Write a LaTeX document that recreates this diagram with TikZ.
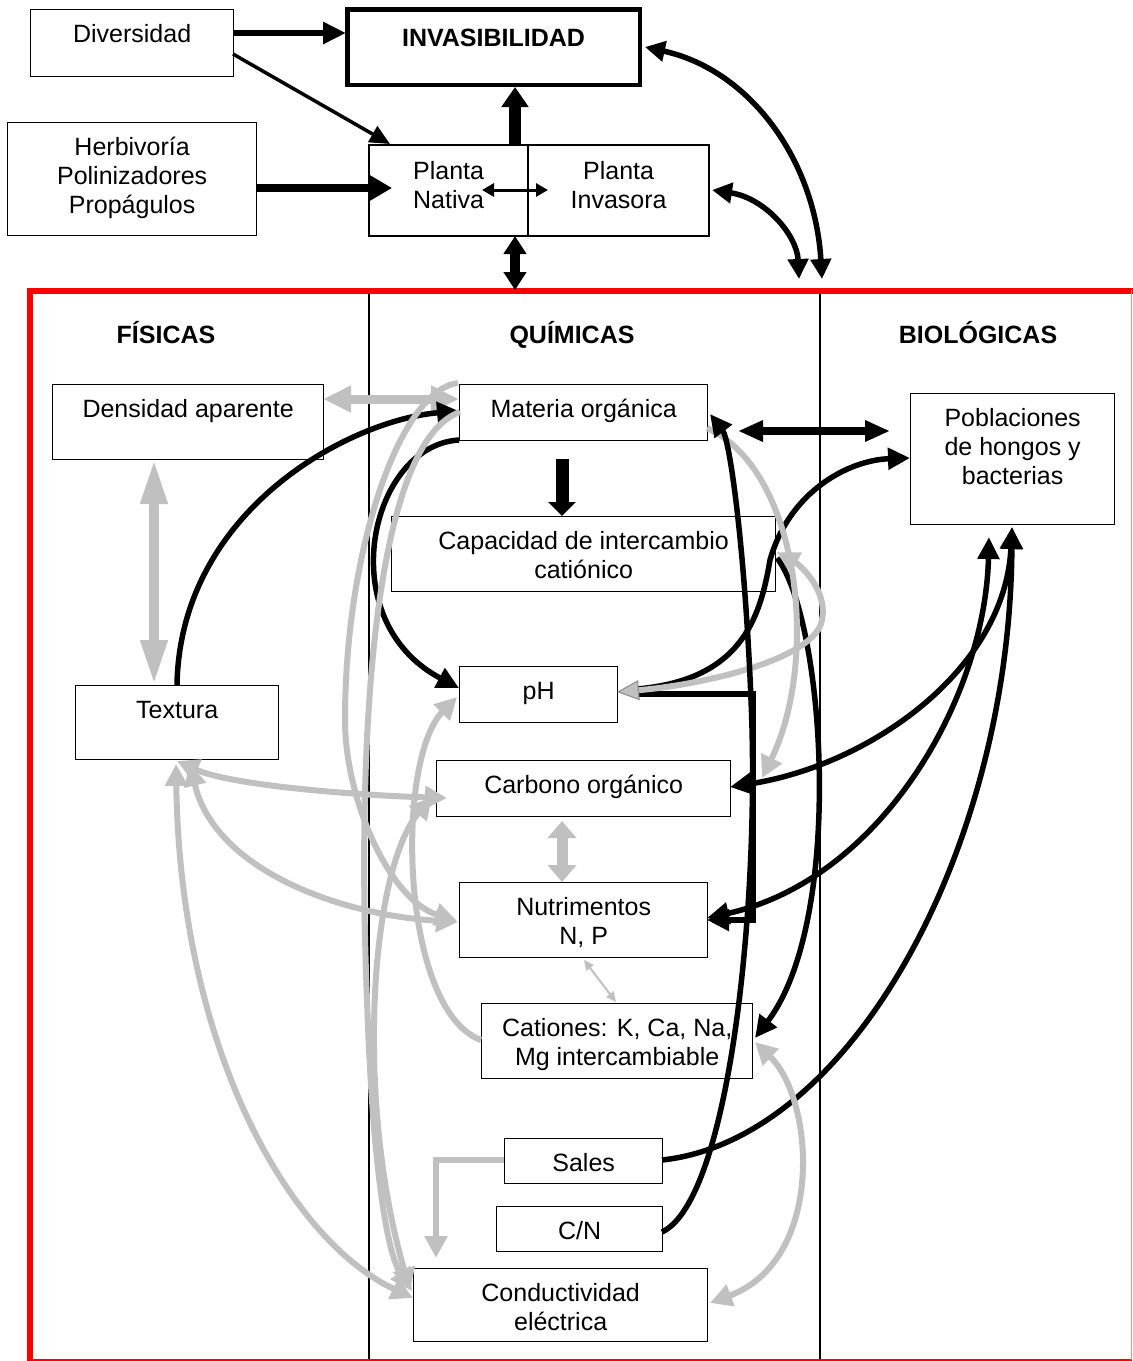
\documentclass[tikz,border=0pt]{standalone}
\usepackage{fontspec}
\setmainfont{Liberation Sans}
\usetikzlibrary{arrows.meta,calc}
\definecolor{lg}{RGB}{192,192,192}
\definecolor{fr}{RGB}{255,0,0}
\newcommand\mkbox[7][]{\node[bx,#1,minimum width=#5pt,minimum height=#6pt,label={[lbl]north:{\strut #7}}] (#2) at (#3,#4) {};}
\newcommand\mkboxb[7][]{\node[bx,#1,minimum width=#5pt,minimum height=#6pt,label={[lbl,yshift=-2pt]north:{\strut #7}}] (#2) at (#3,#4) {};}
\tikzset{
 bx/.style={draw, line width=1.3pt, fill=white, inner sep=0pt, anchor=north west},
 lbl/.style={anchor=north, inner sep=0pt, yshift=-13pt, align=center, font={\fontsize{25}{29}\selectfont\lineskiplimit=-100pt}},
 hdr/.style={font={\fontsize{25}{29}\selectfont\bfseries}, anchor=base, inner sep=0pt},
 bk/.style={draw=black, line width=5.5pt},
 gy/.style={draw=lg, line width=6pt},
 tb/.tip={Triangle[length=22pt,width=21pt]},
 tg/.tip={Triangle[length=22pt,width=22pt]},
 tgo/.tip={Triangle[length=22pt,width=20pt,line width=1pt,color=black!45,fill=lg]},
}
\begin{document}
\begin{tikzpicture}[x=1pt,y=-1pt]
\useasboundingbox (0,0) rectangle (1133,1361);
% columns and frame
\coordinate (c1t) at (369,290); \coordinate (c1b) at (369,1361);
\coordinate (c2t) at (820,290); \coordinate (c2b) at (820,1361);
\draw[line width=1.4pt] (c1t) -- (c1b);
\draw[line width=1.4pt] (c2t) -- (c2b);
\coordinate (fbl) at (30,1361); \coordinate (ftl) at (30,290.5); \coordinate (ftr) at (1133,290.5);
\draw[fr, line width=6pt] (fbl) -- (ftl) -- (ftr);
\coordinate (fb1) at (30,1360.2); \coordinate (fb2) at (1131.5,1360.2); \coordinate (fr1) at (1131.5,290);
\draw[fr, line width=1.5pt] (fb1) -- (fb2);
\draw[fr!45, line width=1.2pt] (fr1) -- (fb2);
\coordinate (ftop) at (515,290);
\coordinate (fa) at (799,279);
\coordinate (fb) at (822,279);
% headers
\node[hdr] (hfis) at (166,343) {FÍSICAS};
\node[hdr] (hqui) at (572,343) {QUÍMICAS};
\node[hdr] (hbio) at (978,343) {BIOLÓGICAS};
% boxes
\node[bx, line width=4.5pt, minimum width=292.5pt, minimum height=75.5pt, label={[lbl,yshift=-6pt]north:{\strut\bfseries INVASIBILIDAD}}] (inv) at (345,7) {};
\mkbox{div}{30}{9}{203}{67}{Diversidad}
\mkbox{herb}{7}{122}{249}{113}{Herbivoría\\Polinizadores\\Propágulos}
\mkboxb[line width=2.2pt]{nat}{368}{144}{159}{91}{Planta\\Nativa}
\mkboxb[line width=2.2pt]{invs}{527}{144}{181}{91}{Planta\\Invasora}
\mkbox{den}{52}{384}{271}{75}{Densidad aparente}
\mkbox{tex}{75}{685}{203}{74}{Textura}
\mkbox{mo}{459}{384}{248}{56}{Materia orgánica}
\mkbox{cic}{391}{516}{384}{75}{Capacidad de intercambio\\catiónico}
\mkbox{ph}{459}{666}{158}{56}{pH}
\mkbox{co}{436}{760}{294}{56}{Carbono orgánico}
\mkbox{nut}{459}{882}{248}{75}{Nutrimentos\\N, P}
\mkbox{cat}{481}{1003}{271}{75}{Cationes: K, Ca, Na,\\Mg intercambiable}
\mkbox{sal}{504}{1138}{158}{45}{Sales}
\mkbox{cn}{496}{1206}{166}{45}{C/N}
\mkbox{ce}{413}{1268}{294}{73}{Conductividad\\eléctrica}
\mkbox{pob}{910}{393}{204}{131}{Poblaciones\\de hongos y\\bacterias}
% top connectors
\draw[line width=6pt, -{Triangle[length=23pt,width=21pt]}] ($(div.north west)+(203,24)$) -- ($(inv.north west)+(1,26)$);
\draw[line width=3.5pt, -{Triangle[length=20pt,width=18pt]}] ($(div.north west)+(203,45)$) -- ($(nat.north west)+(22,0)$);
\draw[line width=8pt, -{Triangle[length=22pt,width=24pt]}] ($(herb.north west)+(249,66)$) -- ($(nat.north west)+(24,44)$);
\draw[line width=3pt, {Triangle[length=12pt,width=13pt]}-{Triangle[length=12pt,width=13pt]}] ($(nat.north west)+(114,46)$) -- ($(invs.north west)+(21,46)$);
\draw[line width=12pt, -{Triangle[length=20pt,width=26pt]}] ($(nat.north west)+(147,0)$) -- ($(inv.north west)+(170,80)$);
\draw[line width=10pt, {Triangle[length=18pt,width=22pt]}-{Triangle[length=18pt,width=22pt]}] ($(nat.north west)+(147,92)$) -- (ftop);
\draw[line width=5.5pt, {Triangle[length=20pt,width=20pt]}-{Triangle[length=20pt,width=20pt]}] ($(inv.north west)+(300,40)$) .. controls (750,70) and (815,160) .. (fb);
\draw[line width=5.5pt, {Triangle[length=20pt,width=20pt]}-{Triangle[length=20pt,width=20pt]}] ($(invs.north west)+(185,46)$) .. controls (765,198) and (797,235) .. (fa);
% gray straight
\draw[gy, line width=9pt, {Triangle[length=28pt,width=25pt]}-{Triangle[length=28pt,width=25pt]}] ($(den.north west)+(271,15)$) -- ($(mo.north west)+(0,15)$);
\draw[gy, line width=10pt, {Triangle[length=45pt,width=25pt]}-{Triangle[length=45pt,width=25pt]}] ($(den.north west)+(102,75)$) -- ($(tex.north west)+(79,0)$);
\draw[gy, line width=11pt, {Triangle[length=17pt,width=28pt]}-{Triangle[length=17pt,width=28pt]}] ($(co.north west)+(126,61)$) -- ($(nut.north west)+(103,0)$);
\draw[gy, line width=2pt, {Triangle[length=10pt,width=9pt]}-{Triangle[length=10pt,width=9pt]}] ($(nut.north west)+(125,78)$) -- ($(cat.north west)+(135,-1)$);
% black curves
\draw[bk,-tb] ($(tex.north west)+(102,0)$) .. controls (180,510) and (350,420) .. ($(mo.north west)+(0,27)$);
\draw[bk,-tb] ($(mo.north west)+(0,56)$) .. controls (370,445) and (330,620) .. ($(ph.north west)+(0,22)$);
\draw[line width=13pt, -{Triangle[length=14pt,width=27pt]}] ($(mo.north west)+(103,75)$) -- ($(cic.north west)+(171,0)$);
\draw[line width=8pt, {Triangle[length=25pt,width=20pt]}-{Triangle[length=25pt,width=20pt]}] ($(mo.north west)+(279,47)$) -- ($(pob.north west)+(-20,38)$);
\draw[bk,-tb] ($(ph.north west)+(178,23)$) .. controls (740,680) and (760,620) .. (770,560) .. controls (790,490) and (850,460) .. ($(pob.north west)+(0,65)$);
\draw[bk,-tb] ($(cic.north west)+(386,42)$) .. controls (825,620) and (845,920) .. ($(cat.north west)+(274,35)$);
\draw[bk, line width=6pt, -tb] ($(ph.north west)+(175,28)$) -| ($(nut.north west)+(294,38)$) -- ($(nut.north west)+(248,38)$);
\draw[bk,tb-tb] ($(pob.north west)+(102,134)$) .. controls (1005,670) and (870,765) .. ($(co.north west)+(294,27)$);
\draw[bk,tb-tb] ($(pob.north west)+(79,144)$) .. controls (985,700) and (880,880) .. ($(nut.north west)+(248,36)$);
\draw[bk,-tb] ($(sal.north west)+(158,22)$) .. controls (850,1140) and (1010,850) .. ($(pob.north west)+(102,134)$);
% gray curves
\draw[gy,-tg] ($(mo.north west)+(248,44)$) .. controls (800,470) and (820,660) .. ($(co.north west)+(326,18)$);
\draw[gy,tgo-tg] ($(ph.north west)+(158,26)$) .. controls (700,685) and (815,660) .. (822,620) .. controls (828,590) and (800,565) .. ($(cic.north west)+(386,36)$);
\draw[gy,-tg] ($(cat.north west)+(0,37)$) .. controls (400,1010) and (395,760) .. ($(ph.north west)+(-2,31)$);
\draw[gy,tg-tg] ($(tex.north west)+(102,76)$) .. controls (230,785) and (350,795) .. ($(co.north west)+(11,38)$);
\draw[gy,tg-tg] ($(tex.north west)+(115,79)$) .. controls (215,870) and (340,915) .. ($(nut.north west)+(-1,40)$);
\draw[gy,tg-tg] ($(tex.north west)+(101,79)$) .. controls (180,1050) and (290,1240) .. ($(ce.north west)+(0,30)$);
\draw[gy,-tg] ($(mo.north west)+(-1,-1)$) .. controls (400,390) and (345,550) .. (345,720) .. controls (345,800) and (390,900) .. ($(nut.north west)+(-2,39)$);
\draw[gy,-tg] ($(mo.north west)+(1,28)$) .. controls (380,440) and (355,700) .. (367,1000) .. controls (372,1150) and (385,1250) .. ($(ce.north west)+(-1,23)$);
\draw[gy,tg-tg] ($(co.north west)+(-4,37)$) .. controls (370,870) and (355,1100) .. ($(ce.north west)+(-3,22)$);
\draw[gy,-tg] ($(sal.north west)+(0,22)$) -| ($(ce.north west)+(23,-10)$);
\draw[gy,tg-tg] ($(cat.north west)+(274,39)$) .. controls (815,1100) and (825,1260) .. ($(ce.north west)+(297,35)$);
% long black C/N to MO
\draw[bk,-tb] ($(cn.north west)+(166,26)$) .. controls (730,1200) and (760,900) .. (751,700) .. controls (745,550) and (730,440) .. ($(mo.north west)+(251,30)$);
\end{tikzpicture}
\end{document}
